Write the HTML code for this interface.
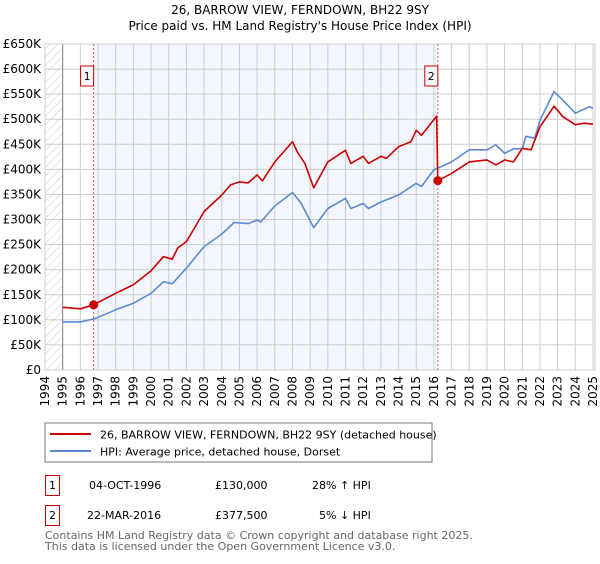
<!DOCTYPE html>
<html><head><meta charset="utf-8"><style>
body{margin:0;background:#fff;font-family:"DejaVu Sans","Liberation Sans",sans-serif;}
svg text{font-family:"DejaVu Sans","Liberation Sans",sans-serif;}
</style></head><body>
<svg id="c" width="600" height="560" xmlns="http://www.w3.org/2000/svg">
<defs><pattern id="hatch" width="6" height="6" patternUnits="userSpaceOnUse" patternTransform="rotate(45)"><line x1="0" y1="0" x2="0" y2="6" stroke="#ccc" stroke-width="1"/></pattern></defs>
<text x="300" y="14" text-anchor="middle" font-size="12">26, BARROW VIEW, FERNDOWN, BH22 9SY</text>
<text x="300" y="30" text-anchor="middle" font-size="12">Price paid vs. HM Land Registry's House Price Index (HPI)</text>
<g id="plot"></g>
<rect x="45" y="423" width="387" height="39" fill="#fff" stroke="#777"/>
<g><line x1="50" y1="434" x2="91" y2="434" stroke="#cc0000" stroke-width="2"/><text x="100" y="438.5" font-size="11">26, BARROW VIEW, FERNDOWN, BH22 9SY (detached house)</text></g>
<g><line x1="50" y1="451" x2="91" y2="451" stroke="#5b8bd0" stroke-width="2"/><text x="100" y="455.5" font-size="11">HPI: Average price, detached house, Dorset</text></g>
<g><rect x="45.5" y="475.5" width="14" height="20" fill="#fff" stroke="#cc0000"/><text x="52.5" y="489" font-size="11" text-anchor="middle">1</text><text x="89" y="489" font-size="11">04-OCT-1996</text><text x="215" y="489" font-size="11">£130,000</text><text x="312" y="489" font-size="11">28% ↑ HPI</text></g>
<g><rect x="45.5" y="505.5" width="14" height="20" fill="#fff" stroke="#cc0000"/><text x="52.5" y="519" font-size="11" text-anchor="middle">2</text><text x="87" y="519" font-size="11">22-MAR-2016</text><text x="215" y="519" font-size="11">£377,500</text><text x="319" y="519" font-size="11">5% ↓ HPI</text></g>
<text x="45" y="539" font-size="11" fill="#666">Contains HM Land Registry data © Crown copyright and database right 2025.</text>
<text x="45" y="550" font-size="11" fill="#666">This data is licensed under the Open Government Licence v3.0.</text>
</svg>
<script>
const hpiYears=[1995,1996,1996.8,1998,1999,2000,2000.7,2001.2,2002,2003,2004,2004.7,2005.5,2006,2006.2,2007,2008,2008.5,2009.2,2010,2011,2011.3,2012,2012.3,2013,2014,2015,2015.3,2016,2017,2018,2019,2019.5,2020,2020.5,2021,2021.2,2021.7,2022,2022.8,2023.3,2024,2024.8,2025];
const hpiValues=[96,96,102,120,133,153,176,172,203,246,271,294,292,299,295,327,354,332,284,322,342,322,332,322,335,349,372,366,399,415,439,439,449,432,441,441,466,462,498,555,538,512,525,522];
const propYears=[1995,1996,1996.75,1998,1999,2000,2000.7,2001.2,2001.5,2002,2002.5,2003,2004,2004.5,2005,2005.5,2006,2006.3,2007,2008,2008.3,2008.7,2009.2,2010,2011,2011.3,2012,2012.3,2013,2013.3,2014,2014.7,2015,2015.3,2016.15,2016.22,2017,2018,2019,2019.5,2020,2020.5,2021,2021.5,2022,2022.8,2023.3,2024,2024.5,2025];
const propValues=[125,122,130,153,170,198,226,221,243,256,286,316,349,369,375,373,389,377,415,455,433,412,363,415,438,412,426,412,426,422,445,455,478,468,506,377.5,392,415,419,409,419,415,442,439,485,526,505,489,492,490];
const saleYears=[1996.75,2016.22];
const saleValues=[130,377.5];
const saleLabels=["1","2"];
const yTicks=[0,50,100,150,200,250,300,350,400,450,500,550,600,650];
const xTickYears=[1994,1995,1996,1997,1998,1999,2000,2001,2002,2003,2004,2005,2006,2007,2008,2009,2010,2011,2012,2013,2014,2015,2016,2017,2018,2019,2020,2021,2022,2023,2024,2025];
const X0=45,X1=593,Y0=370,Y1=44;
const xs=y=>X0+(y-1994)*(X1-X0)/31;
const ys=v=>Y0-v*(Y0-Y1)/650;
const NS="http://www.w3.org/2000/svg";
const g=document.getElementById('plot');
function mk(t,a){const e=document.createElementNS(NS,t);for(const k in a)e.setAttribute(k,a[k]);g.appendChild(e);return e;}
let e=mk('rect',{x:X0,y:Y1,width:xs(1995)-X0,height:Y0-Y1,fill:'url(#hatch)'});


e=mk('rect',{x:xs(saleYears[0]),y:Y1,width:xs(saleYears[1])-xs(saleYears[0]),height:Y0-Y1,fill:'#eef3fc',opacity:0.7});


yTicks.forEach(v=>{
 const l=mk('line',{x1:X0,x2:X1,y1:ys(v),y2:ys(v),stroke:'#ccc','stroke-width':1});
 
 
 const t=mk('text',{x:X0-4,y:ys(v)+4,'text-anchor':'end','font-size':12});
 t.textContent=v===0?'£0':'£'+v+'K';
 
 
});
xTickYears.forEach(y=>{
 const l=mk('line',{x1:xs(y),x2:xs(y),y1:Y1,y2:Y0,stroke:'#ccc','stroke-width':1});
 
 
 const t=mk('text',{x:0,y:0,'text-anchor':'end','font-size':12,transform:`translate(${xs(y)+4},${Y0+6}) rotate(-90)`});
 t.textContent=y;
 
 
});
e=mk('line',{x1:xs(1995),x2:xs(1995),y1:Y1,y2:Y0,stroke:'#888'});


e=mk('rect',{x:X0,y:Y1,width:X1-X0+2,height:Y0-Y1,fill:'none',stroke:'#ccc'});


saleYears.forEach((y,i)=>{
 const l=mk('line',{x1:xs(y),x2:xs(y),y1:Y1,y2:Y0,stroke:'#e06060','stroke-dasharray':'2,2'});
 
 
});
function path(xa,va,col,name){
 const d=xa.map((x,i)=>(i?'L':'M')+xs(x).toFixed(1)+','+ys(va[i]).toFixed(1)).join('');
 const p=mk('path',{d:d,fill:'none',stroke:col,'stroke-width':1.6,'stroke-linejoin':'round'});
 
 
}
path(hpiYears,hpiValues,'#5b8bd0','hpi-line');
path(propYears,propValues,'#cc0000','property-price-line');
saleYears.forEach((y,i)=>{
 const c=mk('circle',{cx:xs(y),cy:ys(saleValues[i]),r:4.5,fill:'#cc0000'});
 
 
 const bx=xs(y)-13;
 const r=mk('rect',{x:bx,y:66,width:13,height:20,fill:'#fff',stroke:'#cc0000'});
 
 
 const t=mk('text',{x:bx+6.5,y:80,'text-anchor':'middle','font-size':11});
 t.textContent=saleLabels[i];
 
 
});
</script>
</body></html>
